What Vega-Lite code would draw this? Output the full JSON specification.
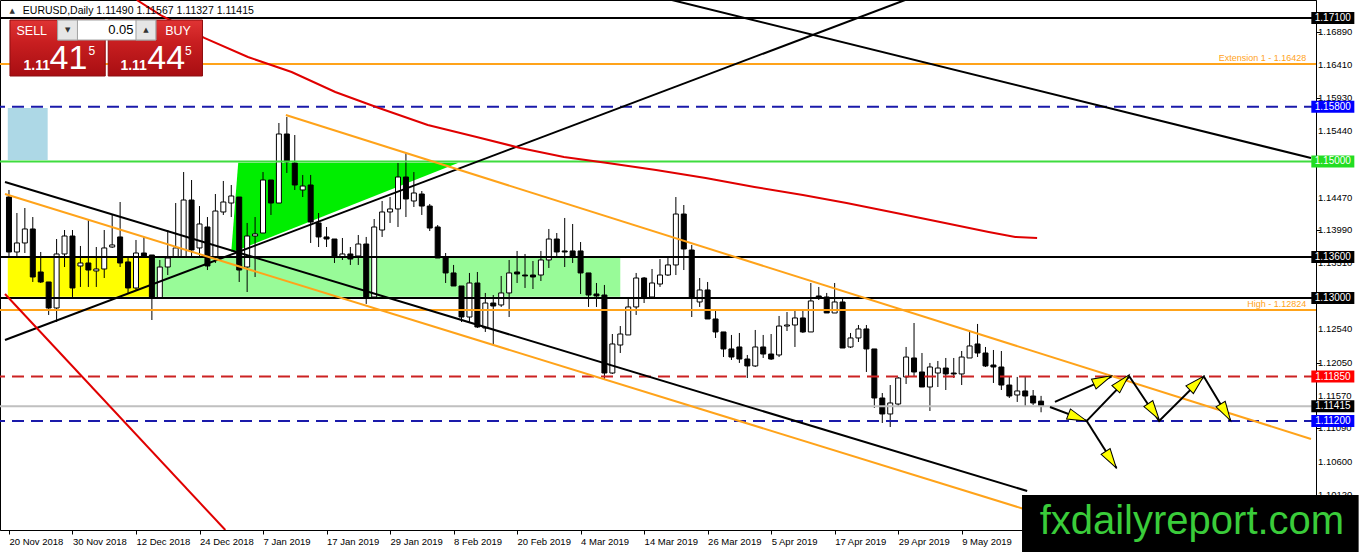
{
  "$schema": "https://vega.github.io/schema/vega-lite/v6.json",
  "width": 1316,
  "height": 530,
  "autosize": "none",
  "padding": {"left": 0, "top": 0, "right": 46, "bottom": 22},
  "background": "white",
  "view": {"stroke": "#000000", "strokeWidth": 1},
  "config": {"text": {"font": "Liberation Sans"}, "axis": {"grid": false, "labelFont": "Liberation Sans", "labelFontSize": 9.5, "labelColor": "#000000", "tickColor": "#000000", "domainColor": "#000000", "tickSize": 4, "labelOverlap": false, "labelFlush": false, "labelBound": false}},
  "datasets": {
    "candles": [
      {"i":0,"o":1.14479,"h":1.14582,"l":1.13586,"c":1.13674},
      {"i":1,"o":1.13674,"h":1.14245,"l":1.13601,"c":1.13806},
      {"i":2,"o":1.13806,"h":1.14318,"l":1.13659,"c":1.14011},
      {"i":3,"o":1.14011,"h":1.14186,"l":1.13235,"c":1.13308},
      {"i":4,"o":1.13381,"h":1.13674,"l":1.13220,"c":1.13235},
      {"i":5,"o":1.13235,"h":1.13235,"l":1.12752,"c":1.12854},
      {"i":6,"o":1.12854,"h":1.13864,"l":1.12649,"c":1.13645},
      {"i":7,"o":1.13645,"h":1.13996,"l":1.13454,"c":1.13908},
      {"i":8,"o":1.13908,"h":1.13996,"l":1.13015,"c":1.13147},
      {"i":9,"o":1.13469,"h":1.13762,"l":1.13162,"c":1.13513},
      {"i":10,"o":1.13513,"h":1.14143,"l":1.13162,"c":1.13410},
      {"i":11,"o":1.13396,"h":1.13747,"l":1.13162,"c":1.13425},
      {"i":12,"o":1.13425,"h":1.13996,"l":1.13293,"c":1.13733},
      {"i":13,"o":1.13747,"h":1.14216,"l":1.13733,"c":1.13777},
      {"i":14,"o":1.13894,"h":1.14406,"l":1.13454,"c":1.13513},
      {"i":15,"o":1.13528,"h":1.13601,"l":1.13074,"c":1.13147},
      {"i":16,"o":1.13147,"h":1.13850,"l":1.13118,"c":1.13659},
      {"i":17,"o":1.13659,"h":1.13894,"l":1.13601,"c":1.13601},
      {"i":18,"o":1.13630,"h":1.13630,"l":1.12678,"c":1.13015},
      {"i":19,"o":1.13000,"h":1.13557,"l":1.13000,"c":1.13454},
      {"i":20,"o":1.13454,"h":1.13996,"l":1.13337,"c":1.13586},
      {"i":21,"o":1.13601,"h":1.14391,"l":1.13601,"c":1.13733},
      {"i":22,"o":1.13601,"h":1.14845,"l":1.13586,"c":1.14435},
      {"i":23,"o":1.14435,"h":1.14728,"l":1.13601,"c":1.13703},
      {"i":24,"o":1.13733,"h":1.14347,"l":1.13586,"c":1.14084},
      {"i":25,"o":1.14040,"h":1.14186,"l":1.13410,"c":1.13469},
      {"i":26,"o":1.13601,"h":1.14523,"l":1.13513,"c":1.14274},
      {"i":27,"o":1.14260,"h":1.14714,"l":1.14216,"c":1.14406},
      {"i":28,"o":1.14391,"h":1.14655,"l":1.14186,"c":1.14494},
      {"i":29,"o":1.14479,"h":1.14479,"l":1.13235,"c":1.13410},
      {"i":30,"o":1.13454,"h":1.14099,"l":1.13088,"c":1.13908},
      {"i":31,"o":1.13908,"h":1.14186,"l":1.13308,"c":1.13938},
      {"i":32,"o":1.13952,"h":1.14845,"l":1.13952,"c":1.14728},
      {"i":33,"o":1.14728,"h":1.14728,"l":1.14216,"c":1.14391},
      {"i":34,"o":1.14391,"h":1.15563,"l":1.14391,"c":1.15402},
      {"i":35,"o":1.15402,"h":1.15651,"l":1.14831,"c":1.14992},
      {"i":36,"o":1.14977,"h":1.15387,"l":1.14582,"c":1.14655},
      {"i":37,"o":1.14582,"h":1.14802,"l":1.14479,"c":1.14640},
      {"i":38,"o":1.14655,"h":1.14802,"l":1.13806,"c":1.14113},
      {"i":39,"o":1.14099,"h":1.14245,"l":1.13747,"c":1.13894},
      {"i":40,"o":1.13894,"h":1.14040,"l":1.13747,"c":1.13864},
      {"i":41,"o":1.13864,"h":1.13864,"l":1.13513,"c":1.13601},
      {"i":42,"o":1.13601,"h":1.13879,"l":1.13557,"c":1.13645},
      {"i":43,"o":1.13645,"h":1.13747,"l":1.13484,"c":1.13571},
      {"i":44,"o":1.13615,"h":1.13923,"l":1.13484,"c":1.13791},
      {"i":45,"o":1.13791,"h":1.13894,"l":1.12913,"c":1.13000},
      {"i":46,"o":1.13015,"h":1.14157,"l":1.13015,"c":1.14040},
      {"i":47,"o":1.13996,"h":1.14421,"l":1.13894,"c":1.14260},
      {"i":48,"o":1.14260,"h":1.14479,"l":1.14099,"c":1.14304},
      {"i":49,"o":1.14304,"h":1.14977,"l":1.14040,"c":1.14772},
      {"i":50,"o":1.14772,"h":1.15124,"l":1.14186,"c":1.14450},
      {"i":51,"o":1.14421,"h":1.14845,"l":1.14333,"c":1.14538},
      {"i":52,"o":1.14523,"h":1.14567,"l":1.14216,"c":1.14347},
      {"i":53,"o":1.14347,"h":1.14377,"l":1.13981,"c":1.14025},
      {"i":54,"o":1.14040,"h":1.14069,"l":1.13586,"c":1.13586},
      {"i":55,"o":1.13586,"h":1.13659,"l":1.13220,"c":1.13367},
      {"i":56,"o":1.13367,"h":1.13484,"l":1.13176,"c":1.13176},
      {"i":57,"o":1.13176,"h":1.13176,"l":1.12649,"c":1.12722},
      {"i":58,"o":1.12722,"h":1.13367,"l":1.12634,"c":1.13220},
      {"i":59,"o":1.13220,"h":1.13381,"l":1.12561,"c":1.12576},
      {"i":60,"o":1.12561,"h":1.13074,"l":1.12503,"c":1.12927},
      {"i":61,"o":1.12927,"h":1.13044,"l":1.12312,"c":1.12883},
      {"i":62,"o":1.12898,"h":1.13323,"l":1.12869,"c":1.13074},
      {"i":63,"o":1.13074,"h":1.13557,"l":1.12722,"c":1.13367},
      {"i":64,"o":1.13381,"h":1.13689,"l":1.13220,"c":1.13352},
      {"i":65,"o":1.13337,"h":1.13645,"l":1.13147,"c":1.13323},
      {"i":66,"o":1.13337,"h":1.13542,"l":1.13132,"c":1.13308},
      {"i":67,"o":1.13337,"h":1.13689,"l":1.13249,"c":1.13557},
      {"i":68,"o":1.13557,"h":1.14011,"l":1.13440,"c":1.13864},
      {"i":69,"o":1.13864,"h":1.13952,"l":1.13601,"c":1.13674},
      {"i":70,"o":1.13689,"h":1.14172,"l":1.13454,"c":1.13674},
      {"i":71,"o":1.13689,"h":1.14084,"l":1.13513,"c":1.13615},
      {"i":72,"o":1.13689,"h":1.13820,"l":1.13059,"c":1.13367},
      {"i":73,"o":1.13367,"h":1.13367,"l":1.12869,"c":1.13044},
      {"i":74,"o":1.13059,"h":1.13220,"l":1.12869,"c":1.13030},
      {"i":75,"o":1.13044,"h":1.13191,"l":1.11814,"c":1.11902},
      {"i":76,"o":1.11902,"h":1.12473,"l":1.11888,"c":1.12327},
      {"i":77,"o":1.12312,"h":1.12590,"l":1.12195,"c":1.12473},
      {"i":78,"o":1.12459,"h":1.13015,"l":1.12459,"c":1.12869},
      {"i":79,"o":1.12869,"h":1.13367,"l":1.12752,"c":1.13293},
      {"i":80,"o":1.13293,"h":1.13308,"l":1.12927,"c":1.13015},
      {"i":81,"o":1.13015,"h":1.13425,"l":1.13000,"c":1.13220},
      {"i":82,"o":1.13205,"h":1.13571,"l":1.13162,"c":1.13337},
      {"i":83,"o":1.13337,"h":1.13601,"l":1.13323,"c":1.13484},
      {"i":84,"o":1.13484,"h":1.14479,"l":1.13337,"c":1.14230},
      {"i":85,"o":1.14230,"h":1.14362,"l":1.13410,"c":1.13718},
      {"i":86,"o":1.13703,"h":1.13777,"l":1.12722,"c":1.13000},
      {"i":87,"o":1.12942,"h":1.13293,"l":1.12869,"c":1.13118},
      {"i":88,"o":1.13118,"h":1.13235,"l":1.12693,"c":1.12693},
      {"i":89,"o":1.12693,"h":1.12825,"l":1.12415,"c":1.12503},
      {"i":90,"o":1.12503,"h":1.12503,"l":1.12136,"c":1.12254},
      {"i":91,"o":1.12254,"h":1.12459,"l":1.12093,"c":1.12136},
      {"i":92,"o":1.12283,"h":1.12488,"l":1.12049,"c":1.12107},
      {"i":93,"o":1.12107,"h":1.12166,"l":1.11829,"c":1.12005},
      {"i":94,"o":1.12005,"h":1.12532,"l":1.11990,"c":1.12283},
      {"i":95,"o":1.12283,"h":1.12459,"l":1.12122,"c":1.12180},
      {"i":96,"o":1.12180,"h":1.12473,"l":1.12093,"c":1.12107},
      {"i":97,"o":1.12166,"h":1.12737,"l":1.12136,"c":1.12590},
      {"i":98,"o":1.12590,"h":1.12795,"l":1.12517,"c":1.12605},
      {"i":99,"o":1.12605,"h":1.12839,"l":1.12283,"c":1.12708},
      {"i":100,"o":1.12708,"h":1.12839,"l":1.12488,"c":1.12503},
      {"i":101,"o":1.12503,"h":1.13220,"l":1.12503,"c":1.12957},
      {"i":102,"o":1.13030,"h":1.13162,"l":1.12971,"c":1.13000},
      {"i":103,"o":1.13015,"h":1.13074,"l":1.12781,"c":1.12781},
      {"i":104,"o":1.12781,"h":1.13220,"l":1.12781,"c":1.12942},
      {"i":105,"o":1.12942,"h":1.12986,"l":1.12268,"c":1.12268},
      {"i":106,"o":1.12283,"h":1.12488,"l":1.12268,"c":1.12415},
      {"i":107,"o":1.12415,"h":1.12605,"l":1.12356,"c":1.12547},
      {"i":108,"o":1.12547,"h":1.12605,"l":1.11917,"c":1.12254},
      {"i":109,"o":1.12254,"h":1.12254,"l":1.11390,"c":1.11536},
      {"i":110,"o":1.11536,"h":1.11609,"l":1.11170,"c":1.11302},
      {"i":111,"o":1.11302,"h":1.11726,"l":1.11111,"c":1.11463},
      {"i":112,"o":1.11448,"h":1.11844,"l":1.11419,"c":1.11829},
      {"i":113,"o":1.11844,"h":1.12283,"l":1.11741,"c":1.12136},
      {"i":114,"o":1.12122,"h":1.12634,"l":1.11844,"c":1.11917},
      {"i":115,"o":1.11917,"h":1.12195,"l":1.11697,"c":1.11697},
      {"i":116,"o":1.11697,"h":1.12049,"l":1.11346,"c":1.11990},
      {"i":117,"o":1.11902,"h":1.12078,"l":1.11697,"c":1.11975},
      {"i":118,"o":1.11975,"h":1.12122,"l":1.11653,"c":1.11888},
      {"i":119,"o":1.11902,"h":1.12122,"l":1.11829,"c":1.11888},
      {"i":120,"o":1.11888,"h":1.12224,"l":1.11726,"c":1.12136},
      {"i":121,"o":1.12122,"h":1.12503,"l":1.12122,"c":1.12298},
      {"i":122,"o":1.12327,"h":1.12620,"l":1.12136,"c":1.12195},
      {"i":123,"o":1.12195,"h":1.12283,"l":1.11990,"c":1.12005},
      {"i":124,"o":1.12019,"h":1.12239,"l":1.11756,"c":1.11990},
      {"i":125,"o":1.11990,"h":1.12224,"l":1.11653,"c":1.11726},
      {"i":126,"o":1.11726,"h":1.11844,"l":1.11536,"c":1.11565},
      {"i":127,"o":1.11580,"h":1.11844,"l":1.11478,"c":1.11639},
      {"i":128,"o":1.11639,"h":1.11844,"l":1.11404,"c":1.11565},
      {"i":129,"o":1.11565,"h":1.11653,"l":1.11434,"c":1.11463},
      {"i":130,"o":1.11490,"h":1.11567,"l":1.11327,"c":1.11415}
    ],
    "levels": [
      {"p":1.171,"kind":"level"},
      {"p":1.16428,"kind":"fib"},
      {"p":1.158,"kind":"target"},
      {"p":1.15,"kind":"pivot"},
      {"p":1.136,"kind":"level"},
      {"p":1.13,"kind":"level"},
      {"p":1.12824,"kind":"fib"},
      {"p":1.1185,"kind":"stop"},
      {"p":1.11415,"kind":"bid"},
      {"p":1.112,"kind":"target"}
    ],
    "zones": [
      {"zone":"upper","i":-0.15,"i2":4.875,"p":1.15782,"p2":1.15021},
      {"zone":"buy","i":-0.15,"i2":18.25,"p":1.136,"p2":1.1302},
      {"zone":"range","i":18.25,"i2":77,"p":1.136,"p2":1.1302}
    ],
    "triangle": [
      {"i":28,"p":1.13674,"p2":1.13674},
      {"i":28.875,"p":1.1498,"p2":1.13703},
      {"i":56.625,"p":1.1498,"p2":1.1498}
    ],
    "trend": [
      {"line":"L1","kind":"black","i":-0.5,"p":1.12385},
      {"line":"L1","kind":"black","i":112.875,"p":1.17364},
      {"line":"L2","kind":"black","i":83.5,"p":1.17364},
      {"line":"L2","kind":"black","i":164,"p":1.1505},
      {"line":"L3","kind":"black","i":-0.5,"p":1.14699},
      {"line":"L3","kind":"black","i":128.25,"p":1.10174},
      {"line":"L4","kind":"orange","i":-0.5,"p":1.14523},
      {"line":"L4","kind":"orange","i":128.25,"p":1.09896},
      {"line":"L5","kind":"orange","i":34.875,"p":1.1568},
      {"line":"L5","kind":"orange","i":164,"p":1.10936},
      {"line":"L6","kind":"red","i":-0.5,"p":1.13059},
      {"line":"L6","kind":"red","i":27.25,"p":1.09603}
    ],
    "ma": [
      {"i":16.1,"p":1.17364},{"i":19.1,"p":1.17144},{"i":24.6,"p":1.16808},
      {"i":30.1,"p":1.16529},{"i":35.6,"p":1.1631},{"i":41.1,"p":1.16017},
      {"i":46.6,"p":1.15783},{"i":52.75,"p":1.15534},{"i":58.9,"p":1.15358},
      {"i":64.4,"p":1.15197},{"i":69.9,"p":1.15065},{"i":75.4,"p":1.14977},
      {"i":81.5,"p":1.14875},{"i":87.75,"p":1.14758},{"i":93.9,"p":1.14626},
      {"i":100,"p":1.14509},{"i":105.5,"p":1.14392},{"i":111.75,"p":1.14245},
      {"i":117.9,"p":1.14099},{"i":123.4,"p":1.13967},{"i":126.75,"p":1.13894},
      {"i":129.5,"p":1.13879}
    ],
    "arrows": [
      {"path":"A","n":0,"i":131.75,"p":1.11478},
      {"path":"A","n":1,"i":138.875,"p":1.1185},
      {"path":"B","n":0,"i":131.125,"p":1.11404},
      {"path":"B","n":1,"i":135.75,"p":1.112},
      {"path":"B","n":2,"i":141.125,"p":1.1185},
      {"path":"B","n":3,"i":144.875,"p":1.112},
      {"path":"B","n":4,"i":150.5,"p":1.1185},
      {"path":"B","n":5,"i":153.875,"p":1.112},
      {"path":"C","n":0,"i":135.75,"p":1.112},
      {"path":"C","n":1,"i":139.5,"p":1.10511}
    ],
    "heads": [
      {"id":"A","i":137.75,"p":1.118},
      {"id":"B1","i":134.6,"p":1.11251},
      {"id":"B2","i":140.25,"p":1.1177},
      {"id":"B3","i":144.2,"p":1.11336},
      {"id":"B4","i":149.6,"p":1.11756},
      {"id":"B5","i":153.25,"p":1.11325},
      {"id":"C","i":138.8,"p":1.10634}
    ],
    "notes": [
      {"i":163.4,"p":1.16441,"t":"Extension 1 - 1.16428"},
      {"i":163.4,"p":1.12839,"t":"High - 1.12824"}
    ],
    "ylabels": [
      {"p":1.1689,"t":"1.16890"},{"p":1.1641,"t":"1.16410"},{"p":1.1593,"t":"1.15930"},
      {"p":1.1544,"t":"1.15440"},{"p":1.1496,"t":"1.14960"},{"p":1.1447,"t":"1.14470"},
      {"p":1.1399,"t":"1.13990"},{"p":1.1351,"t":"1.13510"},{"p":1.1303,"t":"1.13030"},
      {"p":1.1254,"t":"1.12540"},{"p":1.1205,"t":"1.12050"},{"p":1.1157,"t":"1.11570"},
      {"p":1.1109,"t":"1.11090"},{"p":1.106,"t":"1.10600"},{"p":1.1012,"t":"1.10120"}
    ],
    "tags": [
      {"p":1.171,"kind":"level","label":"1.17100"},
      {"p":1.158,"kind":"target","label":"1.15800"},
      {"p":1.15,"kind":"pivot","label":"1.15000"},
      {"p":1.136,"kind":"level","label":"1.13600"},
      {"p":1.13,"kind":"level","label":"1.13000"},
      {"p":1.1185,"kind":"stop","label":"1.11850"},
      {"p":1.11415,"kind":"bid","label":"1.11415"},
      {"p":1.112,"kind":"target","label":"1.11200"}
    ],
    "redblocks": [
      {"i":0.125,"i2":12.125,"p":1.17071,"p2":1.16251},
      {"i":12.5,"i2":24.375,"p":1.17071,"p2":1.16251}
    ],
    "lotbox": [{"i":6.125,"i2":18.5,"p":1.17071,"p2":1.16778}],
    "buttons": [
      {"i":6.125,"i2":8.625,"p":1.17071,"p2":1.16778},
      {"i":16.0,"i2":18.5,"p":1.17071,"p2":1.16778}
    ],
    "sidetext": [
      {"i":2.875,"p":1.16917,"t":"SELL"},
      {"i":21.3,"p":1.16917,"t":"BUY"}
    ],
    "lottext": [{"i":14.1,"p":1.16925,"t":"0.05"}],
    "spin": [
      {"i":7.4,"p":1.16925,"t":"▼"},
      {"i":17.25,"p":1.16925,"t":"▲"}
    ],
    "pricesmall": [
      {"i":3.5,"p":1.16398,"t":"1.11"},
      {"i":15.7,"p":1.16398,"t":"1.11"}
    ],
    "pricebig": [
      {"i":7.5,"p":1.16493,"t":"41"},
      {"i":19.8,"p":1.16493,"t":"44"}
    ],
    "pricesup": [
      {"i":10.44,"p":1.16617,"t":"5"},
      {"i":22.6,"p":1.16617,"t":"5"}
    ],
    "caption": [{"i":1.75,"p":1.17203,"t":"EURUSD,Daily  1.11490 1.11567 1.11327 1.11415"}],
    "glyph": [{"i":0.4,"p":1.17203,"t":"▲"}],
    "mark": [{"i":127.6,"i2":170,"p":1.10116,"p2":1.0925}],
    "marktext": [{"i":149,"p":1.0972,"t":"fxdailyreport.com"}]
  },
  "layer": [
    {
      "data": {"name": "zones"},
      "mark": {"type": "rect"},
      "encoding": {
        "x": {"field": "i", "type": "quantitative", "title": null, "scale": {"domain": [-0.5, 164], "nice": false, "zero": false},
          "axis": {"orient": "bottom", "values": [0,8,16,24,32,40,48,56,64,72,80,88,96,104,112,120],
            "labelExpr": "['20 Nov 2018','30 Nov 2018','12 Dec 2018','24 Dec 2018','7 Jan 2019','17 Jan 2019','29 Jan 2019','8 Feb 2019','20 Feb 2019','4 Mar 2019','14 Mar 2019','26 Mar 2019','5 Apr 2019','17 Apr 2019','29 Apr 2019','9 May 2019'][round(datum.value/8)]",
            "title": null, "grid": false, "labelAlign": "left", "labelDx": -2, "labelPadding": 2, "labelOverlap": false, "labelFlush": false, "labelBound": false}},
        "x2": {"field": "i2"},
        "y": {"field": "p", "type": "quantitative", "title": null, "scale": {"domain": [1.09603, 1.17364], "nice": false, "zero": false},
          "axis": {"orient": "right", "values": [1.1689,1.1641,1.1593,1.1544,1.1496,1.1447,1.1399,1.1351,1.1303,1.1254,1.1205,1.1157,1.1109,1.106,1.1012],
            "labels": false, "title": null, "grid": false}},
        "y2": {"field": "p2"},
        "fill": {"field": "zone", "type": "nominal", "legend": null,
          "scale": {"domain": ["upper","buy","range"], "range": ["#ADD8E6","#FFFF00","#98FB98"]}}
      }
    },
    {
      "data": {"name": "triangle"},
      "mark": {"type": "area", "color": "#00EE00", "opacity": 1, "clip": true},
      "encoding": {
        "x": {"field": "i", "type": "quantitative", "title": null, "scale": {"domain": [-0.5, 164], "nice": false, "zero": false}},
        "y": {"field": "p", "type": "quantitative", "title": null, "scale": {"domain": [1.09603, 1.17364], "nice": false, "zero": false}},
        "y2": {"field": "p2"}
      }
    },
    {
      "data": {"name": "candles"},
      "mark": {"type": "rule", "color": "#000000", "strokeWidth": 1},
      "encoding": {
        "x": {"field": "i", "type": "quantitative", "title": null, "scale": {"domain": [-0.5, 164], "nice": false, "zero": false}},
        "y": {"field": "l", "type": "quantitative", "title": null, "scale": {"domain": [1.09603, 1.17364], "nice": false, "zero": false}},
        "y2": {"field": "h"}
      }
    },
    {
      "data": {"name": "candles"},
      "mark": {"type": "bar", "width": 5, "stroke": "#000000", "strokeWidth": 1},
      "encoding": {
        "x": {"field": "i", "type": "quantitative", "title": null, "scale": {"domain": [-0.5, 164], "nice": false, "zero": false}},
        "y": {"field": "o", "type": "quantitative", "title": null, "scale": {"domain": [1.09603, 1.17364], "nice": false, "zero": false}},
        "y2": {"field": "c"},
        "fill": {"condition": {"test": "datum.c < datum.o", "value": "#000000"}, "value": "#FFFFFF"}
      }
    },
    {
      "data": {"name": "levels"},
      "mark": {"type": "rule"},
      "encoding": {
        "y": {"field": "p", "type": "quantitative", "title": null, "scale": {"domain": [1.09603, 1.17364], "nice": false, "zero": false}},
        "color": {"field": "kind", "type": "nominal", "legend": null,
          "scale": {"domain": ["level","fib","target","pivot","stop","bid"], "range": ["#000000","#FFA31A","#1A1AAA","#3FDC3F","#CC2222","#C0C0C0"]}},
        "strokeDash": {"field": "kind", "type": "nominal", "legend": null,
          "scale": {"domain": ["level","fib","target","pivot","stop","bid"], "range": [[1,0],[1,0],[12,7],[1,0],[12,7],[1,0]]}},
        "strokeWidth": {"field": "kind", "type": "nominal", "legend": null,
          "scale": {"domain": ["level","fib","target","pivot","stop","bid"], "range": [2,2,1,2,1,1]}}
      }
    },
    {
      "data": {"name": "trend"},
      "mark": {"type": "line", "strokeWidth": 2, "clip": true},
      "encoding": {
        "x": {"field": "i", "type": "quantitative", "title": null, "scale": {"domain": [-0.5, 164], "nice": false, "zero": false}},
        "y": {"field": "p", "type": "quantitative", "title": null, "scale": {"domain": [1.09603, 1.17364], "nice": false, "zero": false}},
        "detail": {"field": "line"},
        "color": {"field": "kind", "type": "nominal", "legend": null,
          "scale": {"domain": ["black","orange","red"], "range": ["#000000","#FFA31A","#E00000"]}}
      }
    },
    {
      "data": {"name": "ma"},
      "mark": {"type": "line", "color": "#E00000", "strokeWidth": 2, "clip": true},
      "encoding": {
        "x": {"field": "i", "type": "quantitative", "title": null, "scale": {"domain": [-0.5, 164], "nice": false, "zero": false}},
        "y": {"field": "p", "type": "quantitative", "title": null, "scale": {"domain": [1.09603, 1.17364], "nice": false, "zero": false}}
      }
    },
    {
      "data": {"name": "arrows"},
      "mark": {"type": "line", "color": "#000000", "strokeWidth": 2},
      "encoding": {
        "x": {"field": "i", "type": "quantitative", "title": null, "scale": {"domain": [-0.5, 164], "nice": false, "zero": false}},
        "y": {"field": "p", "type": "quantitative", "title": null, "scale": {"domain": [1.09603, 1.17364], "nice": false, "zero": false}},
        "detail": {"field": "path"},
        "order": {"field": "n", "type": "quantitative"}
      }
    },
    {
      "data": {"name": "heads"},
      "mark": {"type": "point", "shape": "M0,-1L0.55,1L-0.55,1Z", "filled": true, "fill": "#FFFF00", "stroke": "#000000", "strokeWidth": 1, "opacity": 1, "size": 380},
      "encoding": {
        "x": {"field": "i", "type": "quantitative", "title": null, "scale": {"domain": [-0.5, 164], "nice": false, "zero": false}},
        "y": {"field": "p", "type": "quantitative", "title": null, "scale": {"domain": [1.09603, 1.17364], "nice": false, "zero": false}},
        "angle": {"field": "id", "type": "ordinal", "legend": null,
          "scale": {"type": "ordinal", "domain": ["A","B1","B2","B3","B4","B5","C"], "range": [65,111,43,146,46,149,147]}}
      }
    },
    {
      "data": {"name": "notes"},
      "mark": {"type": "text", "align": "right", "baseline": "bottom", "color": "#FFA31A", "fontSize": 9},
      "encoding": {
        "x": {"field": "i", "type": "quantitative", "title": null, "scale": {"domain": [-0.5, 164], "nice": false, "zero": false}},
        "y": {"field": "p", "type": "quantitative", "title": null, "scale": {"domain": [1.09603, 1.17364], "nice": false, "zero": false}},
        "text": {"field": "t"}
      }
    },
    {
      "data": {"name": "caption"},
      "mark": {"type": "text", "align": "left", "baseline": "middle", "color": "#000000", "fontSize": 10.5},
      "encoding": {
        "x": {"field": "i", "type": "quantitative", "title": null, "scale": {"domain": [-0.5, 164], "nice": false, "zero": false}},
        "y": {"field": "p", "type": "quantitative", "title": null, "scale": {"domain": [1.09603, 1.17364], "nice": false, "zero": false}},
        "text": {"field": "t"}
      }
    },
    {
      "data": {"name": "glyph"},
      "mark": {"type": "text", "align": "center", "baseline": "middle", "color": "#333333", "fontSize": 7, "font": "DejaVu Sans"},
      "encoding": {
        "x": {"field": "i", "type": "quantitative", "title": null, "scale": {"domain": [-0.5, 164], "nice": false, "zero": false}},
        "y": {"field": "p", "type": "quantitative", "title": null, "scale": {"domain": [1.09603, 1.17364], "nice": false, "zero": false}},
        "text": {"field": "t"}
      }
    },
    {
      "data": {"name": "redblocks"},
      "mark": {"type": "rect", "stroke": "#8E0E10", "strokeWidth": 1,
        "fill": {"gradient": "linear", "x1": 0, "y1": 0, "x2": 0, "y2": 1,
          "stops": [{"offset": 0, "color": "#E03434"}, {"offset": 0.4, "color": "#C81E20"}, {"offset": 1, "color": "#A80E12"}]}},
      "encoding": {
        "x": {"field": "i", "type": "quantitative", "title": null, "scale": {"domain": [-0.5, 164], "nice": false, "zero": false}},
        "x2": {"field": "i2"},
        "y": {"field": "p", "type": "quantitative", "title": null, "scale": {"domain": [1.09603, 1.17364], "nice": false, "zero": false}},
        "y2": {"field": "p2"}
      }
    },
    {
      "data": {"name": "lotbox"},
      "mark": {"type": "rect", "fill": "#FFFFFF", "stroke": "#A0A0A0", "strokeWidth": 1},
      "encoding": {
        "x": {"field": "i", "type": "quantitative", "title": null, "scale": {"domain": [-0.5, 164], "nice": false, "zero": false}},
        "x2": {"field": "i2"},
        "y": {"field": "p", "type": "quantitative", "title": null, "scale": {"domain": [1.09603, 1.17364], "nice": false, "zero": false}},
        "y2": {"field": "p2"}
      }
    },
    {
      "data": {"name": "buttons"},
      "mark": {"type": "rect", "fill": "#E6E6E6", "stroke": "#A0A0A0", "strokeWidth": 1},
      "encoding": {
        "x": {"field": "i", "type": "quantitative", "title": null, "scale": {"domain": [-0.5, 164], "nice": false, "zero": false}},
        "x2": {"field": "i2"},
        "y": {"field": "p", "type": "quantitative", "title": null, "scale": {"domain": [1.09603, 1.17364], "nice": false, "zero": false}},
        "y2": {"field": "p2"}
      }
    },
    {
      "data": {"name": "sidetext"},
      "mark": {"type": "text", "align": "center", "baseline": "middle", "color": "#FFFFFF", "fontSize": 12.5},
      "encoding": {
        "x": {"field": "i", "type": "quantitative", "title": null, "scale": {"domain": [-0.5, 164], "nice": false, "zero": false}},
        "y": {"field": "p", "type": "quantitative", "title": null, "scale": {"domain": [1.09603, 1.17364], "nice": false, "zero": false}},
        "text": {"field": "t"}
      }
    },
    {
      "data": {"name": "lottext"},
      "mark": {"type": "text", "align": "center", "baseline": "middle", "color": "#000000", "fontSize": 13},
      "encoding": {
        "x": {"field": "i", "type": "quantitative", "title": null, "scale": {"domain": [-0.5, 164], "nice": false, "zero": false}},
        "y": {"field": "p", "type": "quantitative", "title": null, "scale": {"domain": [1.09603, 1.17364], "nice": false, "zero": false}},
        "text": {"field": "t"}
      }
    },
    {
      "data": {"name": "spin"},
      "mark": {"type": "text", "align": "center", "baseline": "middle", "color": "#333333", "fontSize": 7, "font": "DejaVu Sans"},
      "encoding": {
        "x": {"field": "i", "type": "quantitative", "title": null, "scale": {"domain": [-0.5, 164], "nice": false, "zero": false}},
        "y": {"field": "p", "type": "quantitative", "title": null, "scale": {"domain": [1.09603, 1.17364], "nice": false, "zero": false}},
        "text": {"field": "t"}
      }
    },
    {
      "data": {"name": "pricesmall"},
      "mark": {"type": "text", "align": "center", "baseline": "middle", "color": "#FFFFFF", "fontSize": 14, "fontWeight": "bold"},
      "encoding": {
        "x": {"field": "i", "type": "quantitative", "title": null, "scale": {"domain": [-0.5, 164], "nice": false, "zero": false}},
        "y": {"field": "p", "type": "quantitative", "title": null, "scale": {"domain": [1.09603, 1.17364], "nice": false, "zero": false}},
        "text": {"field": "t"}
      }
    },
    {
      "data": {"name": "pricebig"},
      "mark": {"type": "text", "align": "center", "baseline": "middle", "color": "#FFFFFF", "fontSize": 34},
      "encoding": {
        "x": {"field": "i", "type": "quantitative", "title": null, "scale": {"domain": [-0.5, 164], "nice": false, "zero": false}},
        "y": {"field": "p", "type": "quantitative", "title": null, "scale": {"domain": [1.09603, 1.17364], "nice": false, "zero": false}},
        "text": {"field": "t"}
      }
    },
    {
      "data": {"name": "pricesup"},
      "mark": {"type": "text", "align": "center", "baseline": "middle", "color": "#FFFFFF", "fontSize": 12},
      "encoding": {
        "x": {"field": "i", "type": "quantitative", "title": null, "scale": {"domain": [-0.5, 164], "nice": false, "zero": false}},
        "y": {"field": "p", "type": "quantitative", "title": null, "scale": {"domain": [1.09603, 1.17364], "nice": false, "zero": false}},
        "text": {"field": "t"}
      }
    },
    {
      "data": {"name": "mark"},
      "mark": {"type": "rect", "fill": "#000000"},
      "encoding": {
        "x": {"field": "i", "type": "quantitative", "title": null, "scale": {"domain": [-0.5, 164], "nice": false, "zero": false}},
        "x2": {"field": "i2"},
        "y": {"field": "p", "type": "quantitative", "title": null, "scale": {"domain": [1.09603, 1.17364], "nice": false, "zero": false}},
        "y2": {"field": "p2"}
      }
    },
    {
      "data": {"name": "marktext"},
      "mark": {"type": "text", "align": "center", "baseline": "middle", "color": "#3ACC3A", "fontSize": 40},
      "encoding": {
        "x": {"field": "i", "type": "quantitative", "title": null, "scale": {"domain": [-0.5, 164], "nice": false, "zero": false}},
        "y": {"field": "p", "type": "quantitative", "title": null, "scale": {"domain": [1.09603, 1.17364], "nice": false, "zero": false}},
        "text": {"field": "t"}
      }
    },
    {
      "data": {"name": "ylabels"},
      "mark": {"type": "text", "align": "left", "baseline": "middle", "color": "#000000", "fontSize": 9.5, "dx": 7},
      "encoding": {
        "x": {"datum": 164, "type": "quantitative", "title": null, "scale": {"domain": [-0.5, 164], "nice": false, "zero": false}},
        "y": {"field": "p", "type": "quantitative", "title": null, "scale": {"domain": [1.09603, 1.17364], "nice": false, "zero": false}},
        "text": {"field": "t"}
      }
    },
    {
      "data": {"name": "tags"},
      "mark": {"type": "tick", "orient": "horizontal", "size": 43, "thickness": 12, "opacity": 1},
      "encoding": {
        "x": {"datum": 166.75, "type": "quantitative", "title": null, "scale": {"domain": [-0.5, 164], "nice": false, "zero": false}},
        "y": {"field": "p", "type": "quantitative", "title": null, "scale": {"domain": [1.09603, 1.17364], "nice": false, "zero": false}},
        "color": {"field": "kind", "type": "nominal", "legend": null,
          "scale": {"domain": ["level","target","pivot","stop","bid"], "range": ["#000000","#0000FF","#22DD22","#FF0000","#000000"]}}
      }
    },
    {
      "data": {"name": "tags"},
      "mark": {"type": "text", "align": "center", "baseline": "middle", "color": "#FFFFFF", "fontSize": 10},
      "encoding": {
        "x": {"datum": 166.75, "type": "quantitative", "title": null, "scale": {"domain": [-0.5, 164], "nice": false, "zero": false}},
        "y": {"field": "p", "type": "quantitative", "title": null, "scale": {"domain": [1.09603, 1.17364], "nice": false, "zero": false}},
        "text": {"field": "label"}
      }
    }
  ],
  "resolve": {"scale": {"color": "independent", "fill": "independent", "strokeDash": "independent", "strokeWidth": "independent", "angle": "independent"}}
}
